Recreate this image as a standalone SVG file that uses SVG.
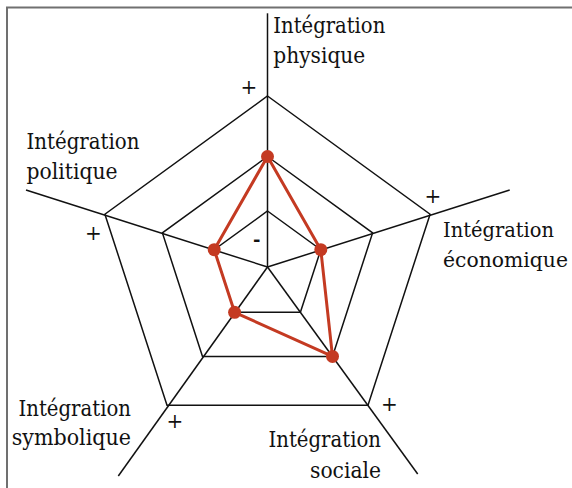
<svg xmlns="http://www.w3.org/2000/svg" width="572" height="488" viewBox="0 0 572 488">
<style>
.grid{fill:none;stroke:#111;stroke-width:1.5;stroke-linejoin:miter}
.ax{stroke:#111;stroke-width:1.5}
.lbl{font-family:'DejaVu Serif','Liberation Serif',serif;font-size:23px;fill:#111}
.sm{font-size:21px}
.pm{font-family:'DejaVu Serif','Liberation Serif',serif;font-size:20px;fill:#111;text-anchor:middle}
.red{fill:none;stroke:#c43a22;stroke-width:3;stroke-linejoin:round}
.dot{fill:#c43a22}
</style>
<rect x="7" y="7.5" width="620" height="600" fill="#fff" stroke="#707070" stroke-width="2"/>
<g id="connectors">
<line class="ax" x1="267.5" y1="13.3" x2="267.5" y2="267"/>
<line class="ax" x1="509.7" y1="190" x2="267.5" y2="267"/>
<line class="ax" x1="417.7" y1="474" x2="267.5" y2="267"/>
<line class="ax" x1="118.3" y1="476" x2="267.5" y2="267"/>
<line class="ax" x1="26" y1="190" x2="267.5" y2="267"/>
<polygon class="grid" points="267.5,96 430.1,214.2 368,405.3 167,405.3 104.9,214.2"/>
<polygon class="grid" points="267.5,156.5 372.6,232.9 332.5,356.4 202.5,356.4 162.4,232.9"/>
<polygon class="grid" points="267.5,211 320.8,249.7 300.4,312.3 234.6,312.3 214.2,249.7"/>
</g>
<g id="profile">
<polygon class="red" points="267.5,156.5 320.8,249.7 332.5,356.4 234.6,312.3 214.2,249.7"/>
<circle class="dot" cx="267.5" cy="156.5" r="6.5"/>
<circle class="dot" cx="320.8" cy="249.7" r="6.5"/>
<circle class="dot" cx="332.5" cy="356.4" r="6.5"/>
<circle class="dot" cx="234.6" cy="312.3" r="6.5"/>
<circle class="dot" cx="214.2" cy="249.7" r="6.5"/>
</g>
<g id="node-physique">
<text class="lbl" x="273.3" y="32.7" textLength="112" lengthAdjust="spacingAndGlyphs">Intégration</text>
<text class="lbl" x="273.3" y="62.7" textLength="92" lengthAdjust="spacingAndGlyphs">physique</text>
<text class="pm" x="249" y="93.5">+</text>
</g>
<g id="node-economique">
<text class="lbl sm" x="443" y="237.3" textLength="111" lengthAdjust="spacingAndGlyphs">Intégration</text>
<text class="lbl sm" x="443" y="266.7" textLength="125" lengthAdjust="spacingAndGlyphs">économique</text>
<text class="pm" x="433" y="202.5">+</text>
</g>
<g id="node-sociale">
<text class="lbl" x="268.5" y="446.7" textLength="112.5" lengthAdjust="spacingAndGlyphs">Intégration</text>
<text class="lbl" x="310" y="477.7" textLength="71" lengthAdjust="spacingAndGlyphs">sociale</text>
<text class="pm" x="389.3" y="410.5">+</text>
</g>
<g id="node-symbolique">
<text class="lbl" x="18.5" y="415.7" textLength="112.5" lengthAdjust="spacingAndGlyphs">Intégration</text>
<text class="lbl" x="11.7" y="445" textLength="119.3" lengthAdjust="spacingAndGlyphs">symbolique</text>
<text class="pm" x="175" y="428">+</text>
</g>
<g id="node-politique">
<text class="lbl" x="26.5" y="149" textLength="113" lengthAdjust="spacingAndGlyphs">Intégration</text>
<text class="lbl" x="26.5" y="178.5" textLength="91" lengthAdjust="spacingAndGlyphs">politique</text>
<text class="pm" x="93.3" y="239.5">+</text>
</g>
<g id="minus">
<text x="256.7" y="245.5" font-family="'DejaVu Serif', serif" font-weight="bold" font-size="18" text-anchor="middle" fill="#111">-</text>
</g>
</svg>
